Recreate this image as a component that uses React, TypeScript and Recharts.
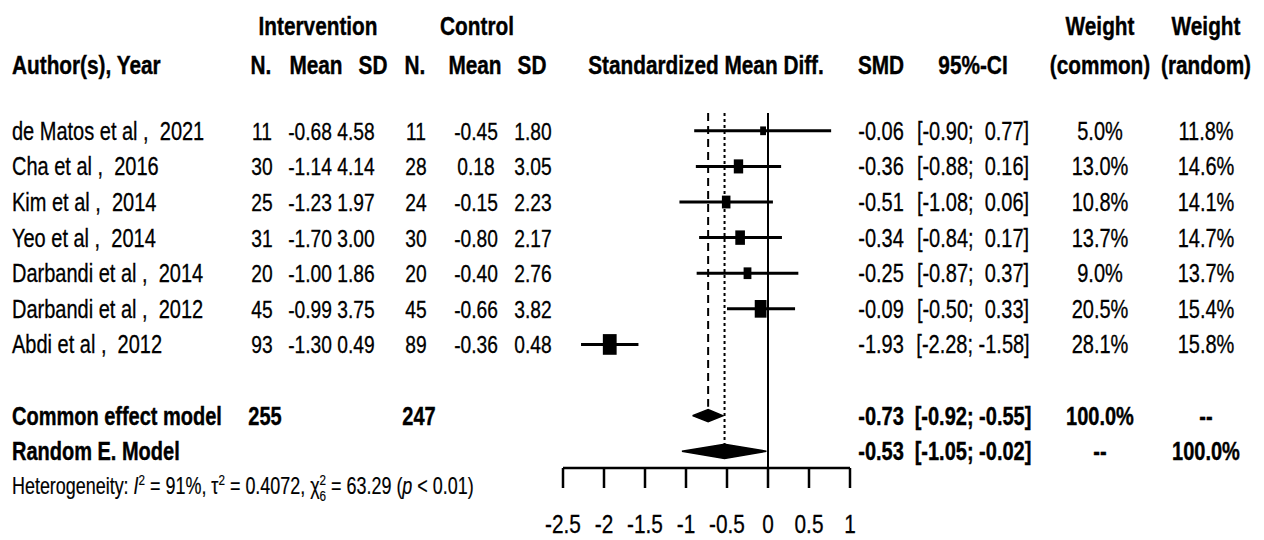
import { ComposedChart, Scatter, XAxis, YAxis, ReferenceLine, ErrorBar } from 'recharts';

const studyLabels = [
  'de Matos et al ,  2021',
  'Cha et al ,  2016',
  'Kim et al ,  2014',
  'Yeo et al ,  2014',
  'Darbandi et al ,  2014',
  'Darbandi et al ,  2012',
  'Abdi et al ,  2012',
];
const intN = [11, 30, 25, 31, 20, 45, 93];
const intMean = [-0.68, -1.14, -1.23, -1.7, -1.0, -0.99, -1.3];
const intSD = [4.58, 4.14, 1.97, 3.0, 1.86, 3.75, 0.49];
const ctlN = [11, 28, 24, 30, 20, 45, 89];
const ctlMean = [-0.45, 0.18, -0.15, -0.8, -0.4, -0.66, -0.36];
const ctlSD = [1.8, 3.05, 2.23, 2.17, 2.76, 3.82, 0.48];
const smd = [-0.06, -0.36, -0.51, -0.34, -0.25, -0.09, -1.93];
const ciLow = [-0.9, -0.88, -1.08, -0.84, -0.87, -0.5, -2.28];
const ciHigh = [0.77, 0.16, 0.06, 0.17, 0.37, 0.33, -1.58];
const weightCommon = [5.0, 13.0, 10.8, 13.7, 9.0, 20.5, 28.1];
const weightRandom = [11.8, 14.6, 14.1, 14.7, 13.7, 15.4, 15.8];

// pooled estimates: [estimate, lower, upper]
const commonEffect = [-0.73, -0.92, -0.55];
const randomEffect = [-0.53, -1.05, -0.02];
const totalN = [255, 247];

const xTicks = [-2.5, -2, -1.5, -1, -0.5, 0, 0.5, 1];

const COMMON_ROW = 8;
const RANDOM_ROW = 9;

// layout
const Y_MIN = -0.5;
const Y_MAX = 9.47;
const PLOT_TOP = 113;
const PLOT_BOTTOM = 468;
const ROW_H = (PLOT_BOTTOM - PLOT_TOP) / (Y_MAX - Y_MIN);
const rowY = (r: number) => PLOT_TOP + (r - Y_MIN) * ROW_H;

const FONT = '"Liberation Sans", Arial, sans-serif';
const SX = 0.8;

const studies = smd.map((v, i) => ({
  x: v,
  y: i,
  w: weightCommon[i],
  err: [v - ciLow[i], ciHigh[i] - v],
}));

function diamond(est: number[], row: number, half: number) {
  const [m, lo, hi] = est;
  return [
    { x: lo, y: row },
    { x: m, y: row - half },
    { x: hi, y: row },
    { x: m, y: row + half },
    { x: lo, y: row },
  ];
}

const commonDiamond = diamond(commonEffect, COMMON_ROW, 0.17);
const randomDiamond = diamond(randomEffect, RANDOM_ROW, 0.2);

const f2 = (v: number) => v.toFixed(2);
const fci = (lo: number, hi: number) => `[${f2(lo)}; ${hi >= 0 ? ' ' : ''}${f2(hi)}]`;
const fw = (v: number) => `${v.toFixed(1)}%`;

function T({ x, y, children, anchor = 'middle', bold = false, size = 25 }: any) {
  return (
    <text
      transform={`translate(${x},${y}) scale(${SX},1)`}
      textAnchor={anchor}
      fontFamily={FONT}
      fontSize={size}
      fontWeight={bold ? 700 : 400}
      fill="#000"
      stroke="#000"
      strokeWidth={bold ? 0.4 : 0.3}
      style={{ whiteSpace: 'pre' }}
    >
      {children}
    </text>
  );
}

const Square = (props: any) => {
  const { cx, cy, payload } = props;
  const s = Math.sqrt(payload.w);
  const w = 2.6 * s;
  const h = 3.9 * s;
  return <rect x={cx - w / 2} y={cy - h / 2} width={w} height={h} fill="#000" />;
};

const AxisTick = (props: any) => {
  const { x, y, payload } = props;
  return (
    <T x={x} y={y + 43} size={26}>
      {String(payload.value)}
    </T>
  );
};

// column centres
const COLS = {
  n1: 262,
  m1: 310,
  sd1: 356,
  n2: 416,
  m2: 476,
  sd2: 533,
  smd: 881,
  ci: 973,
  wc: 1100,
  wr: 1206,
};
const NUM = 24;

export default function App() {
  const base = (r: number) => rowY(r) + 9;
  return (
    <div style={{ position: 'absolute', left: 0, top: 0, width: 1264, height: 540, background: '#fff' }}>
      <ComposedChart
        width={1264}
        height={540}
        margin={{ top: PLOT_TOP, right: 414, bottom: 12, left: 563 }}
        style={{ position: 'absolute', left: 0, top: 0 }}
      >
        <XAxis
          type="number"
          dataKey="x"
          domain={[-2.5, 1]}
          ticks={xTicks}
          interval={0}
          height={60}
          tickSize={20}
          tick={<AxisTick />}
          axisLine={{ stroke: '#000', strokeWidth: 2.5 }}
          tickLine={{ stroke: '#000', strokeWidth: 2.5 }}
        />
        <YAxis type="number" dataKey="y" domain={[Y_MIN, Y_MAX]} reversed hide />
        <ReferenceLine x={0} stroke="#000" strokeWidth={2} />
        <ReferenceLine
          segment={[
            { x: commonEffect[0], y: Y_MIN },
            { x: commonEffect[0], y: 7.75 },
          ]}
          stroke="#000"
          strokeWidth={2}
          strokeDasharray="8 5"
        />
        <ReferenceLine
          segment={[
            { x: randomEffect[0], y: Y_MIN },
            { x: randomEffect[0], y: 8.8 },
          ]}
          stroke="#000"
          strokeWidth={2}
          strokeDasharray="3 3"
        />
        <Scatter data={studies} shape={Square} isAnimationActive={false}>
          <ErrorBar dataKey="err" direction="x" width={0} stroke="#000" strokeWidth={3} />
        </Scatter>
        <Scatter
          data={commonDiamond}
          shape={() => <g />}
          line={{ fill: '#000', stroke: '#000', strokeWidth: 1.5 }}
          lineType="joint"
          isAnimationActive={false}
        />
        <Scatter
          data={randomDiamond}
          shape={() => <g />}
          line={{ fill: '#000', stroke: '#000', strokeWidth: 1.5 }}
          lineType="joint"
          isAnimationActive={false}
        />
      </ComposedChart>

      <svg width={1264} height={540} style={{ position: 'absolute', left: 0, top: 0, pointerEvents: 'none' }}>
        {/* header */}
        <T x={318} y={35} bold size={26}>Intervention</T>
        <T x={477} y={35} bold size={26}>Control</T>
        <T x={COLS.wc} y={35} bold size={26}>Weight</T>
        <T x={COLS.wr} y={35} bold size={26}>Weight</T>

        <T x={12} y={74} anchor="start" bold size={26}>Author(s), Year</T>
        <T x={261} y={74} bold size={26}>N.</T>
        <T x={316} y={74} bold size={26}>Mean</T>
        <T x={373} y={74} bold size={26}>SD</T>
        <T x={415} y={74} bold size={26}>N.</T>
        <T x={475} y={74} bold size={26}>Mean</T>
        <T x={532} y={74} bold size={26}>SD</T>
        <T x={706} y={74} bold size={26}>Standardized Mean Diff.</T>
        <T x={COLS.smd} y={74} bold size={26}>SMD</T>
        <T x={COLS.ci} y={74} bold size={26}>95%-CI</T>
        <T x={COLS.wc} y={74} bold size={26}>(common)</T>
        <T x={COLS.wr} y={74} bold size={26}>(random)</T>

        {studyLabels.map((lab, i) => (
          <g key={lab}>
            <T x={12} y={base(i)} anchor="start">{lab}</T>
            <T x={COLS.n1} y={base(i)} size={NUM}>{String(intN[i])}</T>
            <T x={COLS.m1} y={base(i)} size={NUM}>{f2(intMean[i])}</T>
            <T x={COLS.sd1} y={base(i)} size={NUM}>{f2(intSD[i])}</T>
            <T x={COLS.n2} y={base(i)} size={NUM}>{String(ctlN[i])}</T>
            <T x={COLS.m2} y={base(i)} size={NUM}>{f2(ctlMean[i])}</T>
            <T x={COLS.sd2} y={base(i)} size={NUM}>{f2(ctlSD[i])}</T>
            <T x={COLS.smd} y={base(i)}>{f2(smd[i])}</T>
            <T x={COLS.ci} y={base(i)}>{fci(ciLow[i], ciHigh[i])}</T>
            <T x={COLS.wc} y={base(i)}>{fw(weightCommon[i])}</T>
            <T x={COLS.wr} y={base(i)}>{fw(weightRandom[i])}</T>
          </g>
        ))}

        {/* pooled rows */}
        <T x={12} y={base(COMMON_ROW)} anchor="start" bold>Common effect model</T>
        <T x={265} y={base(COMMON_ROW)} bold>{String(totalN[0])}</T>
        <T x={419} y={base(COMMON_ROW)} bold>{String(totalN[1])}</T>
        <T x={COLS.smd} y={base(COMMON_ROW)} bold>{f2(commonEffect[0])}</T>
        <T x={COLS.ci} y={base(COMMON_ROW)} bold>{fci(commonEffect[1], commonEffect[2])}</T>
        <T x={COLS.wc} y={base(COMMON_ROW)} bold>100.0%</T>
        <T x={COLS.wr} y={base(COMMON_ROW)} bold>--</T>

        <T x={12} y={base(RANDOM_ROW)} anchor="start" bold>Random E. Model</T>
        <T x={COLS.smd} y={base(RANDOM_ROW)} bold>{f2(randomEffect[0])}</T>
        <T x={COLS.ci} y={base(RANDOM_ROW)} bold>{fci(randomEffect[1], randomEffect[2])}</T>
        <T x={COLS.wc} y={base(RANDOM_ROW)} bold>--</T>
        <T x={COLS.wr} y={base(RANDOM_ROW)} bold>100.0%</T>

        <text
          transform={`translate(12,${base(RANDOM_ROW) + 34}) scale(0.78,1)`}
          fontFamily={FONT}
          fontSize={23}
          fill="#000"
          stroke="#000"
          strokeWidth={0.2}
          style={{ whiteSpace: 'pre' }}
        >
          {'Heterogeneity: '}
          <tspan fontStyle="italic">I</tspan>
          <tspan fontSize={15} dy={-9}>2</tspan>
          <tspan dy={9}>{' = 91%, τ'}</tspan>
          <tspan fontSize={15} dy={-9}>2</tspan>
          <tspan dy={9}>{' = 0.4072, χ'}</tspan>
          <tspan fontSize={15} dy={-9}>2</tspan>
          <tspan fontSize={15} dx={-8.3} dy={16}>6</tspan>
          <tspan dy={-7}>{' = 63.29 ('}</tspan>
          <tspan fontStyle="italic">p</tspan>
          <tspan>{' < 0.01)'}</tspan>
        </text>
      </svg>
    </div>
  );
}
